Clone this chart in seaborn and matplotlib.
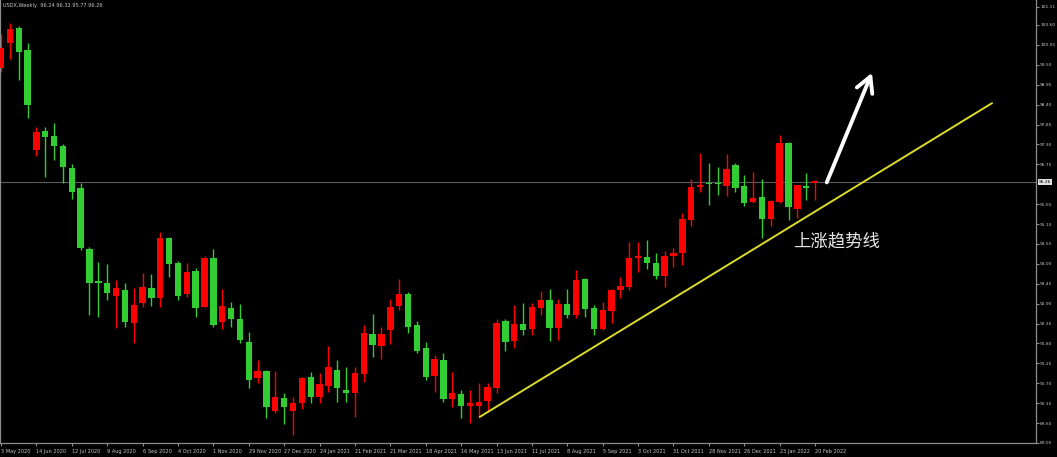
import numpy as np
import pandas as pd
import seaborn as sns
import matplotlib.pyplot as plt

# weekly USDX candles, 17 May 2020 .. 20 Feb 2022
opens = [99.40, 100.10, 100.51, 99.91, 97.14, 97.67, 97.53, 97.25, 96.65, 96.09,
         94.41, 93.52, 93.47, 93.11, 93.28, 92.36, 92.92, 93.33, 93.06, 94.71,
         94.02, 93.17, 93.80, 92.81, 94.16, 92.39, 92.78, 92.48, 91.84, 90.85,
         91.04, 89.93, 90.29, 89.93, 90.15, 90.87, 90.32, 90.62, 91.07, 90.51,
         90.43, 90.96, 92.06, 91.73, 92.17, 92.83, 93.17, 92.31, 91.67, 90.90,
         91.34, 90.27, 90.40, 90.07, 90.07, 90.21, 90.57, 92.42, 91.87, 92.34,
         92.20, 92.78, 93.00, 92.23, 92.89, 92.59, 93.58, 92.78, 92.20, 92.70,
         93.28, 93.36, 94.16, 94.19, 94.02, 93.66, 94.22, 94.30, 95.21, 96.12,
         96.23, 96.23, 96.15, 96.73, 96.15, 95.71, 95.85, 95.24, 95.71, 97.34,
         95.51, 96.15, 96.24]
highs = [100.35, 100.65, 100.57, 100.10, 97.78, 97.78, 97.89, 97.30, 96.76, 96.23,
         94.46, 94.05, 93.99, 93.55, 93.47, 93.33, 93.75, 93.72, 94.88, 94.74,
         94.08, 94.02, 93.88, 94.22, 94.41, 93.30, 92.94, 92.89, 92.12, 91.34,
         91.07, 91.04, 90.43, 90.32, 90.87, 91.01, 90.98, 91.73, 91.34, 91.15,
         91.15, 92.31, 92.61, 92.25, 93.03, 93.58, 93.22, 92.42, 91.84, 91.48,
         91.54, 91.01, 90.51, 90.51, 90.71, 90.71, 92.48, 92.48, 92.86, 92.92,
         92.92, 93.25, 93.30, 93.03, 93.30, 93.83, 93.61, 92.86, 92.94, 93.30,
         93.64, 94.60, 94.60, 94.66, 94.30, 94.35, 94.44, 95.40, 96.34, 97.06,
         96.78, 96.67, 97.03, 96.78, 96.45, 96.53, 96.34, 95.76, 97.56, 97.36,
         96.18, 96.51, 96.32]
lows = [99.30, 99.66, 99.08, 98.03, 96.98, 96.40, 96.87, 96.23, 95.79, 94.38,
        92.59, 92.53, 93.00, 92.23, 92.25, 91.81, 92.81, 92.83, 92.81, 93.64,
        93.00, 93.08, 92.53, 92.81, 92.25, 92.20, 92.25, 91.81, 90.57, 90.71,
        89.74, 89.88, 89.57, 89.27, 89.99, 90.15, 90.15, 90.46, 90.18, 90.18,
        89.77, 90.74, 91.43, 91.37, 91.78, 92.72, 92.09, 91.54, 90.79, 90.46,
        90.18, 90.04, 89.74, 89.60, 89.77, 89.91, 90.43, 91.59, 91.67, 92.03,
        92.03, 92.59, 91.87, 91.90, 92.50, 92.50, 92.53, 92.03, 92.17, 92.36,
        93.06, 93.28, 93.77, 93.86, 93.58, 93.36, 93.91, 93.97, 95.04, 95.98,
        95.62, 95.90, 95.87, 95.98, 95.60, 95.68, 94.71, 95.04, 95.68, 95.21,
        95.27, 95.76, 95.77]
closes = [99.96, 100.49, 99.85, 98.39, 97.64, 97.50, 97.25, 96.67, 95.98, 94.44,
          93.47, 93.47, 93.19, 93.33, 92.39, 92.86, 93.36, 93.06, 94.71, 93.99,
          93.11, 93.77, 92.78, 94.16, 92.31, 92.83, 92.48, 91.90, 90.79, 91.04,
          90.04, 90.32, 90.04, 90.15, 90.85, 90.32, 90.68, 91.15, 90.57, 90.43,
          90.98, 92.09, 91.76, 92.06, 92.81, 93.17, 92.25, 91.59, 90.87, 91.37,
          90.27, 90.43, 90.07, 90.15, 90.18, 90.60, 92.36, 91.84, 92.34, 92.17,
          92.81, 93.00, 92.23, 92.89, 92.59, 93.55, 92.75, 92.20, 92.72, 93.28,
          93.39, 94.16, 94.22, 94.02, 93.66, 94.22, 94.30, 95.24, 96.12, 96.18,
          96.20, 96.20, 96.62, 96.09, 95.68, 95.82, 95.24, 95.73, 97.34, 95.57,
          96.18, 96.09, 96.26]

date_labels = ["3 May 2020", "14 Jun 2020", "12 Jul 2020", "9 Aug 2020", "6 Sep 2020",
               "4 Oct 2020", "1 Nov 2020", "29 Nov 2020", "27 Dec 2020", "24 Jan 2021",
               "21 Feb 2021", "21 Mar 2021", "18 Apr 2021", "16 May 2021", "13 Jun 2021",
               "11 Jul 2021", "8 Aug 2021", "5 Sep 2021", "3 Oct 2021", "31 Oct 2021",
               "28 Nov 2021", "26 Dec 2021", "23 Jan 2022", "20 Feb 2022"]
price_ticks = [89.05, 89.60, 90.15, 90.70, 91.25, 91.80, 92.35, 92.90, 93.45, 94.00,
               94.55, 95.10, 95.65, 96.75, 97.30, 97.85, 98.40, 98.95, 99.50, 100.05,
               100.60, 101.11]
last_price = 96.26

# uptrend line and arrow (bar index, price)
trend_x = [54.1, 112.0]
trend_y = [89.77, 98.44]
arrow_x = [93.2, 98.55]
arrow_y = [96.18, 99.35]

df = pd.DataFrame({"open": opens, "high": highs, "low": lows, "close": closes})
df["i"] = np.arange(len(df))
df["up"] = df["close"] >= df["open"]
df["color"] = np.where(df["up"], "#ff0000", "#32cd32")
df["body_lo"] = df[["open", "close"]].min(axis=1)
df["body_h"] = (df["close"] - df["open"]).abs().clip(lower=0.04)

sns.set_theme(style="dark", rc={"axes.facecolor": "black", "figure.facecolor": "black",
                                "axes.grid": False})
plt.rcParams['font.family'] = ['DejaVu Sans', 'Noto Sans CJK SC']

W, H = 1057, 457
fig = plt.figure(figsize=(W / 100, H / 100), dpi=100)
ax = fig.add_axes([0, 14 / H, 1036 / W, 443 / H])

# candles: wicks then bodies
ax.vlines(df["i"], df["low"], df["high"], colors=df["color"], lw=1.0, zorder=2)
ax.bar(df["i"], df["body_h"], bottom=df["body_lo"], width=0.72,
       color=df["color"], linewidth=0, zorder=3)

# last price line
ax.axhline(last_price, color="#5c5c5c", lw=0.8, zorder=1)

# trend line
sns.lineplot(x=trend_x, y=trend_y, ax=ax, color="#dcdc28", lw=1.4, zorder=4)

ax.annotate("", xy=(arrow_x[1], arrow_y[1]), xytext=(arrow_x[0], arrow_y[0]),
            arrowprops=dict(arrowstyle="->,head_length=0.55,head_width=0.3",
                            color="white", lw=2.8, mutation_scale=20), zorder=5)

ax.text(89.5, 94.63, "上涨趋势线", family=['Noto Sans CJK SC', 'DejaVu Sans'],
        fontsize=12.5, color="#e6e6e6", va="center", ha="left", zorder=5)

ax.text(0.003, 0.994, "USDX,Weekly  96.24 96.32 95.77 96.26", transform=ax.transAxes,
        fontsize=3.6, color="#c8c8c8", va="top", ha="left")

ax.set_xlim(-0.113, 116.97)
ax.set_ylim(89.05, 101.29)

ax.yaxis.tick_right()
ax.set_yticks(price_ticks)
ax.set_yticklabels([f"{v:.2f}" for v in price_ticks])
ax.set_xticks([-0.05] + list(range(4, len(df), 4)))
ax.set_xticklabels(date_labels)
for lbl in ax.get_xticklabels():
    lbl.set_ha("left")
ax.tick_params(axis="x", colors="#8c8c8c", labelcolor="#c8c8c8", labelsize=3.6,
               length=2.5, width=0.8, direction="out", pad=1.5, bottom=True)
ax.tick_params(axis="y", colors="#8c8c8c", labelcolor="#c8c8c8", labelsize=3.2,
               length=2, width=0.8, direction="out", pad=1.0, right=True, left=False)

ax.annotate(f"{last_price:.2f}", xy=(1.0, last_price), xycoords=("axes fraction", "data"),
            xytext=(2, 0), textcoords="offset points", fontsize=3.2, color="black",
            va="center", ha="left",
            bbox=dict(boxstyle="square,pad=0.25", fc="#e0e0e0", ec="none"),
            annotation_clip=False)

for side in ["right", "bottom", "left"]:
    ax.spines[side].set_visible(True)
    ax.spines[side].set_color("#8c8c8c")
    ax.spines[side].set_linewidth(0.9)
ax.spines["top"].set_visible(False)
ax.set_xlabel("")
ax.set_ylabel("")

fig.savefig("out.png", dpi=100, facecolor="black")
